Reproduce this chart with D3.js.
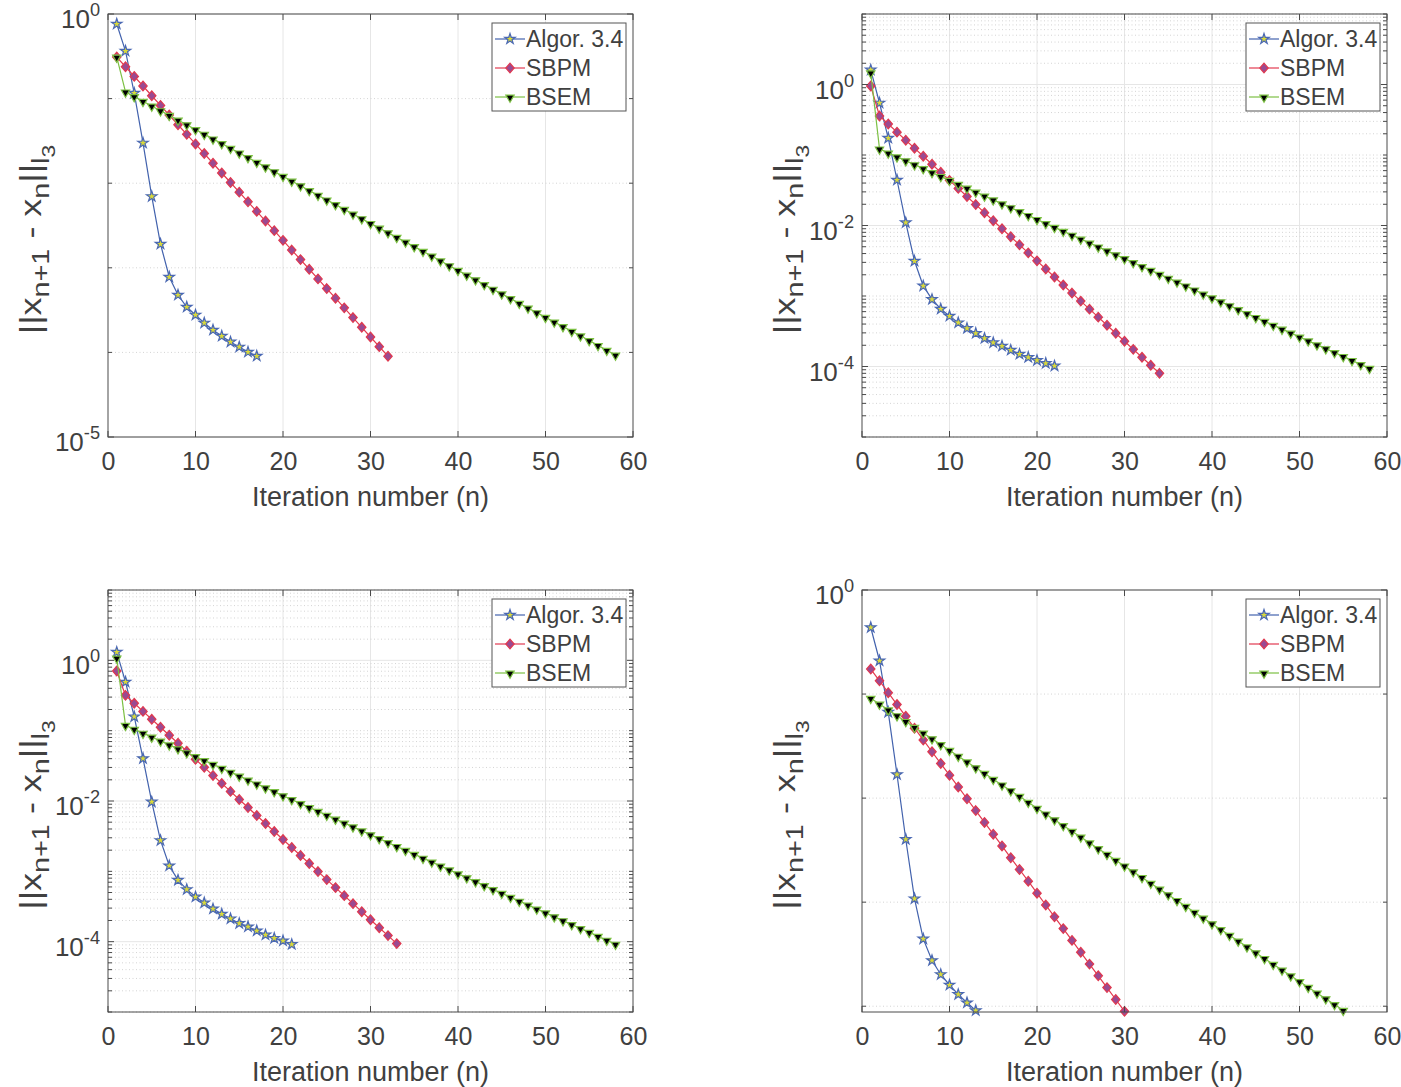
<!DOCTYPE html>
<html><head><meta charset="utf-8">
<script src="https://cdn.jsdelivr.net/npm/d3@7"></script>
<style>
body{margin:0;background:#fff}
svg{display:block}
text{font-family:"Liberation Sans",Arial,Helvetica,sans-serif;fill:#404040}
</style>
</head><body>
<svg id="c" width="1401" height="1087"></svg>
<script>
// ---------------- data ----------------
const iterTicks = [0, 10, 20, 30, 40, 50, 60];
const seriesNames = ["Algor. 3.4", "SBPM", "BSEM"];
const xTitle = "Iteration number (n)";

const p1YTicks = [1, 1e-5];
const p2YTicks = [1, 1e-2, 1e-4];
const p3YTicks = [1, 1e-2, 1e-4];
const p4YTicks = [1];

const p1Algor = [0.762,0.365,0.116,0.0299,0.00697,0.00191,7.78e-4,4.77e-4,3.44e-4,2.77e-4,2.23e-4,1.84e-4,1.56e-4,1.33e-4,1.16e-4,1.01e-4,9.06e-5];
const p1SBPM = [0.310,0.238,0.183,0.141,0.108,0.0831,0.0639,0.0491,0.0378,0.0291,0.0224,0.0172,0.0132,0.0102,0.00784,0.00603,0.00464,0.00357,0.00275,0.00211,0.00162,0.00125,9.61e-4,7.39e-4,5.68e-4,4.37e-4,3.36e-4,2.58e-4,1.98e-4,1.52e-4,1.17e-4,9.00e-5];
const p1BSEM = [0.310,0.120,0.1056,0.0929,0.0818,0.0720,0.0634,0.0558,0.0491,0.0432,0.0380,0.0334,0.0294,0.0259,0.0228,0.0201,0.0177,0.0156,0.0137,0.0121,0.0106,0.00933,0.00821,0.00722,0.00635,0.00559,0.00492,0.00433,0.00381,0.00335,0.00295,0.00260,0.00229,0.00202,0.00178,0.00157,0.00138,0.00121,0.00106,9.33e-4,8.21e-4,7.22e-4,6.35e-4,5.59e-4,4.92e-4,4.33e-4,3.81e-4,3.35e-4,2.95e-4,2.60e-4,2.29e-4,2.02e-4,1.78e-4,1.57e-4,1.38e-4,1.21e-4,1.06e-4,9.33e-5];

const p2Algor = [1.61,0.547,0.174,0.0442,0.0110,0.00313,0.00139,8.97e-4,6.54e-4,5.20e-4,4.18e-4,3.48e-4,2.96e-4,2.51e-4,2.18e-4,1.95e-4,1.71e-4,1.50e-4,1.35e-4,1.22e-4,1.11e-4,1.02e-4];
const p2SBPM = [0.953,0.357,0.275,0.211,0.162,0.125,0.0961,0.0739,0.0568,0.0437,0.0336,0.0258,0.0198,0.0152,0.0117,0.00900,0.00692,0.00532,0.00409,0.00315,0.00242,0.00186,0.00143,0.00110,8.46e-4,6.51e-4,5.01e-4,3.85e-4,2.96e-4,2.28e-4,1.75e-4,1.35e-4,1.04e-4,8.00e-5];
const p2BSEM = [1.47,0.122,0.107,0.0942,0.0829,0.0730,0.0642,0.0565,0.0497,0.0437,0.0385,0.0339,0.0298,0.0262,0.0231,0.0203,0.0179,0.0158,0.0139,0.0122,0.0107,0.00942,0.00829,0.00730,0.00642,0.00565,0.00497,0.00437,0.00385,0.00339,0.00298,0.00262,0.00231,0.00203,0.00179,0.00158,0.00139,0.00122,0.00107,9.42e-4,8.29e-4,7.30e-4,6.42e-4,5.65e-4,4.97e-4,4.37e-4,3.85e-4,3.39e-4,2.98e-4,2.62e-4,2.31e-4,2.03e-4,1.79e-4,1.58e-4,1.39e-4,1.22e-4,1.07e-4,9.42e-5];

const p3Algor = [1.31,0.492,0.158,0.0402,0.00971,0.00275,0.00120,7.50e-4,5.53e-4,4.34e-4,3.57e-4,2.93e-4,2.47e-4,2.12e-4,1.82e-4,1.63e-4,1.43e-4,1.25e-4,1.12e-4,1.03e-4,9.16e-5];
const p3SBPM = [0.705,0.318,0.245,0.188,0.145,0.112,0.0861,0.0662,0.0509,0.0391,0.0301,0.0231,0.0178,0.0137,0.0105,0.00807,0.00621,0.00478,0.00368,0.00283,0.00218,0.00168,0.00129,9.92e-4,7.63e-4,5.87e-4,4.51e-4,3.47e-4,2.67e-4,2.05e-4,1.58e-4,1.22e-4,9.38e-5];
const p3BSEM = [1.08,0.119,0.105,0.0922,0.0811,0.0714,0.0628,0.0553,0.0487,0.0429,0.0377,0.0332,0.0292,0.0257,0.0226,0.0199,0.0175,0.0154,0.0136,0.0119,0.0105,0.00922,0.00811,0.00714,0.00628,0.00553,0.00487,0.00429,0.00377,0.00332,0.00292,0.00257,0.00226,0.00199,0.00175,0.00154,0.00136,0.00119,1.05e-3,9.22e-4,8.11e-4,7.14e-4,6.28e-4,5.53e-4,4.87e-4,4.29e-4,3.77e-4,3.32e-4,2.92e-4,2.57e-4,2.26e-4,1.99e-4,1.75e-4,1.54e-4,1.36e-4,1.19e-4,1.05e-4,9.22e-5];

const p4Algor = [0.436,0.209,0.0670,0.01686,0.00402,0.00108,4.44e-4,2.75e-4,2.02e-4,1.60e-4,1.30e-4,1.08e-4,9.09e-5];
const p4SBPM = [0.174,0.134,0.103,0.0793,0.0611,0.0470,0.0362,0.0279,0.0215,0.0166,0.0128,0.00986,0.00759,0.00584,0.00450,0.00347,0.00267,0.00206,0.00159,0.00122,9.39e-4,7.23e-4,5.57e-4,4.29e-4,3.30e-4,2.54e-4,1.96e-4,1.51e-4,1.16e-4,8.93e-5];
const p4BSEM = [0.0910,0.0801,0.0705,0.0620,0.0546,0.0480,0.0423,0.0372,0.0327,0.0288,0.0253,0.0223,0.0196,0.0173,0.0152,0.0134,0.0118,0.0104,0.00913,0.00801,0.00705,0.00620,0.00546,0.00480,0.00423,0.00372,0.00327,0.00288,0.00253,0.00223,0.00196,0.00173,0.00152,0.00134,0.00118,0.00104,9.13e-4,8.01e-4,7.05e-4,6.20e-4,5.46e-4,4.80e-4,4.23e-4,3.72e-4,3.27e-4,2.88e-4,2.53e-4,2.23e-4,1.96e-4,1.73e-4,1.52e-4,1.34e-4,1.18e-4,1.04e-4,9.14e-5];

// ---------------- layout / style ----------------
const panels = [
  {left:108, top:14,  right:633,  bottom:437,  domain:[1e-5,1],  major:p1YTicks, minor:"decade", data:[p1Algor,p1SBPM,p1BSEM]},
  {left:862, top:14,  right:1387, bottom:437,  domain:[1e-5,10], major:p2YTicks, minor:"full",   data:[p2Algor,p2SBPM,p2BSEM]},
  {left:108, top:590, right:633,  bottom:1012, domain:[1e-5,10], major:p3YTicks, minor:"full",   data:[p3Algor,p3SBPM,p3BSEM]},
  {left:862, top:590, right:1387, bottom:1012, domain:[8.8e-5,1],major:p4YTicks, minor:"decade", data:[p4Algor,p4SBPM,p4BSEM]}
];
const styles = [
  {line:"#4262ad", stroke:"#4a68b4", fill:"#d9d93a", shape:"star"},
  {line:"#e23a50", stroke:"#e0384e", fill:"#9a4a92", shape:"diamond"},
  {line:"#7cc043", stroke:"#7cc043", fill:"#000000", shape:"tri"}
];
const axisColor = "#4a4a4a";
const svg = d3.select("#c");

function marker(g, shape, x, y, st) {
  let p;
  if (shape === "star") {
    p = g.append("path").attr("d", d3.symbol(d3.symbolStar, 34)()).attr("transform", `translate(${x},${y})`);
  } else if (shape === "diamond") {
    p = g.append("path").attr("d", "M0,-4.8L4.2,0L0,4.8L-4.2,0Z").attr("transform", `translate(${x},${y})`);
  } else {
    p = g.append("path").attr("d", d3.symbol(d3.symbolTriangle, 30)()).attr("transform", `translate(${x},${y+0.5}) rotate(180)`);
  }
  p.attr("fill", st.fill).attr("stroke", st.stroke).attr("stroke-width", 1.2);
}

function expLabel(g, x, y, exp, size) {
  const t = g.append("text").attr("x", x).attr("y", y).attr("text-anchor", "end")
    .style("font-size", size + "px");
  t.append("tspan").text("10");
  t.append("tspan").attr("dy", -12).style("font-size", (size * 0.7) + "px").text(exp);
}

panels.forEach((P) => {
  const g = svg.append("g");
  const x = d3.scaleLinear().domain([0, 60]).range([P.left, P.right]);
  const y = d3.scaleLog().domain(P.domain).range([P.bottom, P.top]);
  const lo = Math.floor(Math.log10(P.domain[0])), hi = Math.ceil(Math.log10(P.domain[1]));
  const minors = [];
  for (let d = lo; d <= hi; d++) {
    const ks = P.minor === "full" ? [1,2,3,4,5,6,7,8,9] : [1];
    ks.forEach(k => {
      const v = k * Math.pow(10, d);
      if (v >= P.domain[0] * 0.999 && v <= P.domain[1] * 1.001 &&
          !P.major.some(m => Math.abs(Math.log10(m) - Math.log10(v)) < 1e-6)) minors.push(v);
    });
  }
  // grid
  const grid = g.append("g");
  iterTicks.slice(1, -1).forEach(t => {
    grid.append("line").attr("x1", x(t)).attr("x2", x(t)).attr("y1", P.top).attr("y2", P.bottom)
      .attr("stroke", "#e6e6e6").attr("stroke-width", 1);
  });
  minors.forEach(v => {
    grid.append("line").attr("x1", P.left).attr("x2", P.right).attr("y1", y(v)).attr("y2", y(v))
      .attr("stroke", "#d4d4d4").attr("stroke-width", 1).attr("stroke-dasharray", "1,2.5");
  });
  P.major.forEach(v => {
    grid.append("line").attr("x1", P.left).attr("x2", P.right).attr("y1", y(v)).attr("y2", y(v))
      .attr("stroke", "#e6e6e6").attr("stroke-width", 1);
  });

  // series
  P.data.forEach((arr, si) => {
    const st = styles[si];
    const pts = arr.map((v, i) => [i + 1, v]);
    g.append("path").datum(pts)
      .attr("d", d3.line().x(d => x(d[0])).y(d => y(d[1])))
      .attr("fill", "none").attr("stroke", st.line).attr("stroke-width", 1.2);
    const mg = g.append("g");
    pts.forEach(d => marker(mg, st.shape, x(d[0]), y(d[1]), st));
  });

  // axes box
  g.append("rect").attr("x", P.left).attr("y", P.top).attr("width", P.right - P.left).attr("height", P.bottom - P.top)
    .attr("fill", "none").attr("stroke", axisColor).attr("stroke-width", 1);
  // x ticks
  const xa = d3.axisBottom(x).tickValues(iterTicks).tickSize(0).tickFormat(d3.format("d"));
  iterTicks.forEach(t => {
    g.append("line").attr("x1", x(t)).attr("x2", x(t)).attr("y1", P.bottom).attr("y2", P.bottom - 6).attr("stroke", axisColor);
    g.append("line").attr("x1", x(t)).attr("x2", x(t)).attr("y1", P.top).attr("y2", P.top + 6).attr("stroke", axisColor);
  });
  const xg = g.append("g").attr("transform", `translate(0,${P.bottom})`).call(xa);
  xg.select(".domain").remove();
  xg.selectAll("text").attr("dy", null).attr("y", 33).style("font-size", "25px")
    .style("font-family", "'Liberation Sans',Arial,sans-serif").attr("fill", "#404040");
  // y ticks
  P.major.forEach(v => {
    g.append("line").attr("x1", P.left).attr("x2", P.left + 6).attr("y1", y(v)).attr("y2", y(v)).attr("stroke", axisColor);
    g.append("line").attr("x1", P.right).attr("x2", P.right - 6).attr("y1", y(v)).attr("y2", y(v)).attr("stroke", axisColor);
    expLabel(g, P.left - 8, y(v) + 14, String(Math.round(Math.log10(v))), 26);
  });
  minors.forEach(v => {
    g.append("line").attr("x1", P.left).attr("x2", P.left + 4).attr("y1", y(v)).attr("y2", y(v)).attr("stroke", axisColor);
    g.append("line").attr("x1", P.right).attr("x2", P.right - 4).attr("y1", y(v)).attr("y2", y(v)).attr("stroke", axisColor);
  });

  // x title
  g.append("text").attr("x", (P.left + P.right) / 2).attr("y", P.bottom + 69).attr("text-anchor", "middle")
    .style("font-size", "27px").text(xTitle);
  // y title
  const cy = (P.top + P.bottom) / 2 + 14;
  const yt = g.append("text").attr("transform", `translate(${P.left - 67},${cy}) rotate(-90) scale(1.2,1)`)
    .attr("text-anchor", "middle").style("font-size", "30px");
  yt.append("tspan").text("||x");
  yt.append("tspan").attr("dy", 8).style("font-size", "24px").text("n+1");
  yt.append("tspan").attr("dy", -8).text(" - x");
  yt.append("tspan").attr("dy", 8).style("font-size", "24px").text("n");
  yt.append("tspan").attr("dy", -8).text("||");
  yt.append("tspan").attr("dy", 8).style("font-size", "24px").text("l");
  yt.append("tspan").attr("dy", 6).style("font-size", "19px").text("3");

  // legend
  const lg = g.append("g").attr("transform", `translate(${P.right - 141},${P.top + 9})`);
  lg.append("rect").attr("width", 134).attr("height", 88).attr("fill", "#fff").attr("stroke", "#555").attr("stroke-width", 1);
  seriesNames.forEach((name, i) => {
    const st = styles[i];
    const ry = 16 + i * 29;
    lg.append("line").attr("x1", 3).attr("x2", 33).attr("y1", ry).attr("y2", ry).attr("stroke", st.line).attr("stroke-width", 1.2);
    marker(lg, st.shape, 18, ry, st);
    lg.append("text").attr("x", 34).attr("y", ry + 8).style("font-size", "23px").attr("fill", "#000").text(name);
  });
});
</script>
</body></html>
